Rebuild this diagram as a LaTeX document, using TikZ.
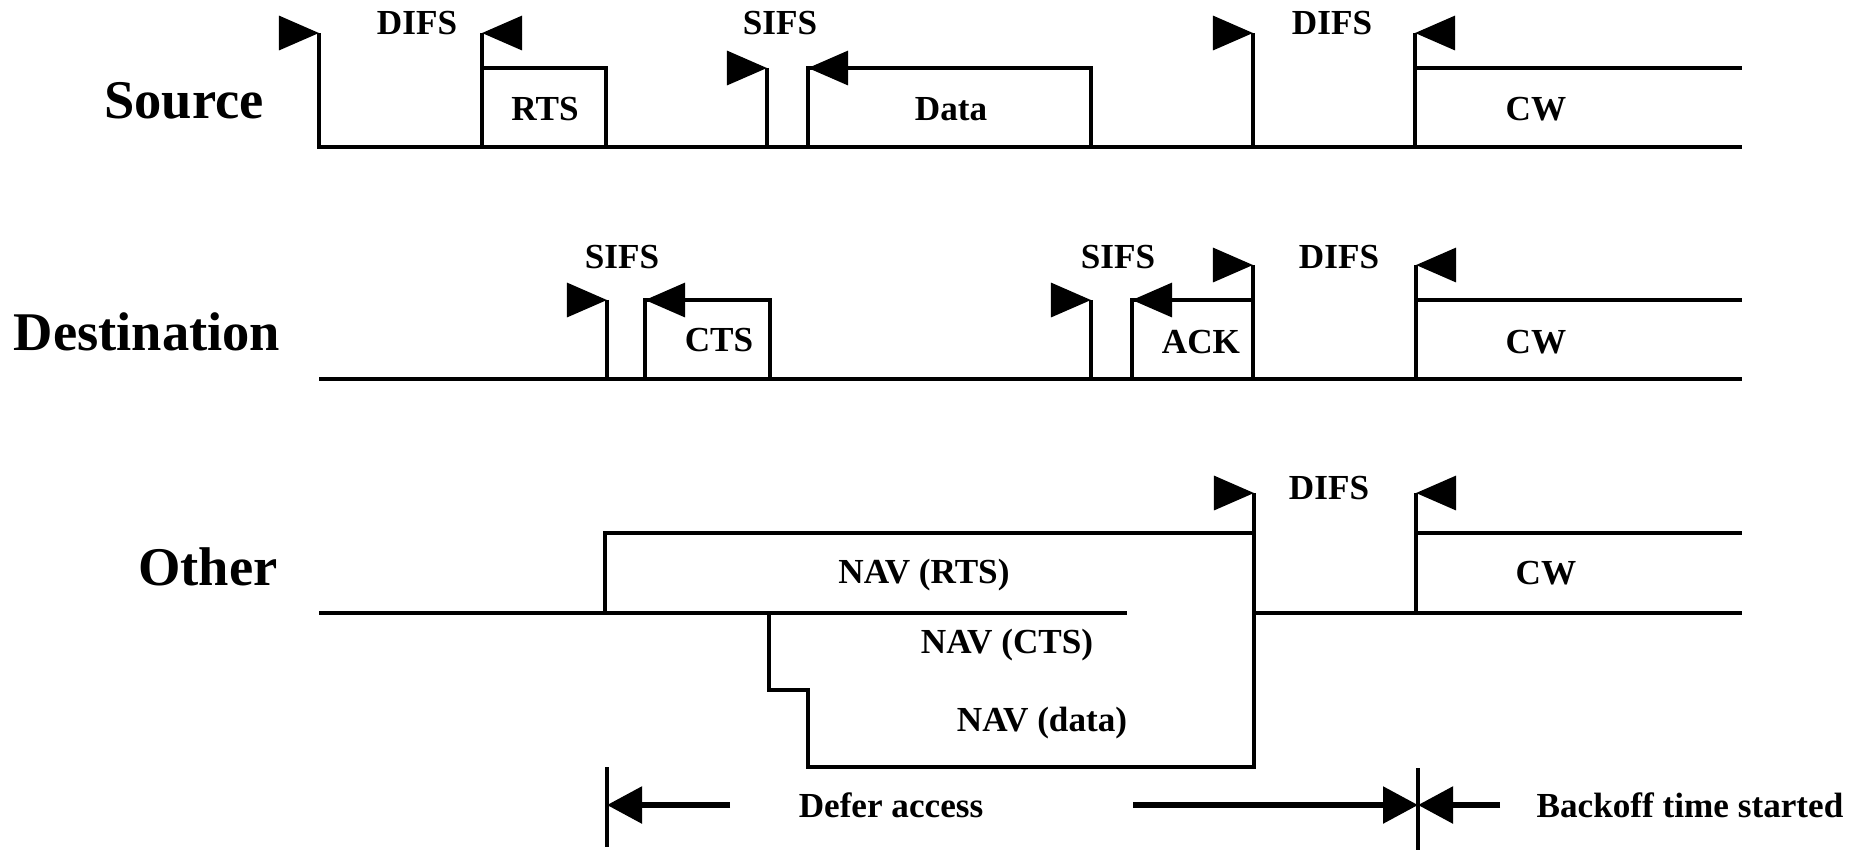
\documentclass[tikz,border=0pt]{standalone}
\usepackage{fontspec}
\setmainfont{Liberation Serif}
\usetikzlibrary{arrows.meta}

\begin{document}
\begin{tikzpicture}[x=0.01cm, y=-0.01cm,
    sig/.style={line width=1.3pt},
    frame/.style={line width=0.9pt},
    flag/.style={line width=0.9pt, -{Triangle[length=4mm, width=3.4mm]}},
    span/.style={line width=1.6pt, -{Triangle[length=3.5mm, width=3.6mm]}},
    lbl/.style={font=\fontsize{10}{12}\selectfont\bfseries, inner sep=0pt},
    row/.style={font=\fontsize{15.5}{18}\selectfont\bfseries, inner sep=0pt}]
  \useasboundingbox (0,0) rectangle (1864,850);

  % Source
  \node[row] (src) at (184,101) {Source};
  \draw[sig] (319,33) -- (319,147) -- (1742,147);
  \draw[frame] (482,33) -- (482,147);
  \draw[frame] (482,68) -| (606,147);
  \draw[frame] (767,68) -- (767,147);
  \draw[frame] (808,147) |- (1091,68) -- (1091,147);
  \draw[frame] (1253,33) -- (1253,147);
  \draw[frame] (1415,33) -- (1415,147);
  \draw[sig] (1415,68) -- (1742,68);
  \node[lbl] (srcDifsA) at (417,23) {DIFS};
  \node[lbl] (srcRts) at (545,109) {RTS};
  \node[lbl] (srcSifs) at (780,23) {SIFS};
  \node[lbl] (srcData) at (951,109) {Data};
  \node[lbl] (srcDifsB) at (1332,23) {DIFS};
  \node[lbl] (srcCw) at (1536,109) {CW};

  % Destination
  \node[row] (dst) at (147,332) {Destination};
  \draw[sig] (319,379) -- (1742,379);
  \draw[frame] (607,300) -- (607,379);
  \draw[frame] (645,379) |- (770,300) -- (770,379);
  \draw[frame] (1091,300) -- (1091,379);
  \draw[frame] (1132,379) |- (1253,300);
  \draw[frame] (1253,265) -- (1253,379);
  \draw[frame] (1416,265) -- (1416,379);
  \draw[sig] (1416,300) -- (1742,300);
  \node[lbl] (dstSifsA) at (622,257) {SIFS};
  \node[lbl] (dstCts) at (719,340) {CTS};
  \node[lbl] (dstSifsB) at (1118,257) {SIFS};
  \node[lbl] (dstAck) at (1201,342) {ACK};
  \node[lbl] (dstDifs) at (1339,257) {DIFS};
  \node[lbl] (dstCw) at (1536,342) {CW};

  % Other
  \node[row] (oth) at (208,567) {Other};
  \draw[sig] (319,613) -- (605,613);
  \draw[frame] (605,613) |- (1254,533);
  \draw[frame] (1254,493) -- (1254,767) -| (808,690) -| (769,613);
  \draw[frame] (605,613) -- (1127,613);
  \draw[sig] (1254,613) -- (1742,613);
  \draw[frame] (1416,493) -- (1416,613);
  \draw[sig] (1416,533) -- (1742,533);
  \node[lbl] (navRts) at (924,575) {NAV (RTS)};
  \node[lbl] (navCts) at (1007,645) {NAV (CTS)};
  \node[lbl] (navData) at (1042,723) {NAV (data)};
  \node[lbl] (othDifs) at (1329,488) {DIFS};
  \node[lbl] (othCw) at (1546,573) {CW};

  % flags
  \foreach \x/\y in {319/33, 767/68, 1253/33, 607/300, 1091/300, 1253/265, 1254/493}
    \draw[flag] (\x-40,\y) -- (\x,\y);
  \foreach \x/\y in {482/33, 808/68, 1415/33, 645/300, 1132/300, 1416/265, 1416/493}
    \draw[flag] (\x+40,\y) -- (\x,\y);

  % defer / backoff
  \draw[frame] (607,767) -- (607,847);
  \draw[frame] (1418,768) -- (1418,850);
  \coordinate (deferStart) at (607,805);
  \coordinate (backoffStart) at (1418,805);
  \coordinate (deferTail) at (730,805);
  \coordinate (deferHead) at (1133,805);
  \coordinate (backoffTail) at (1500,805);
  \node[lbl] (defer) at (891,805) {Defer access};
  \node[lbl] (backoff) at (1690,805) {Backoff time started};
  \draw[span] (deferTail) -- (deferStart);
  \draw[span] (deferHead) -- (backoffStart);
  \draw[span] (backoffTail) -- (backoffStart);
\end{tikzpicture}
\end{document}
